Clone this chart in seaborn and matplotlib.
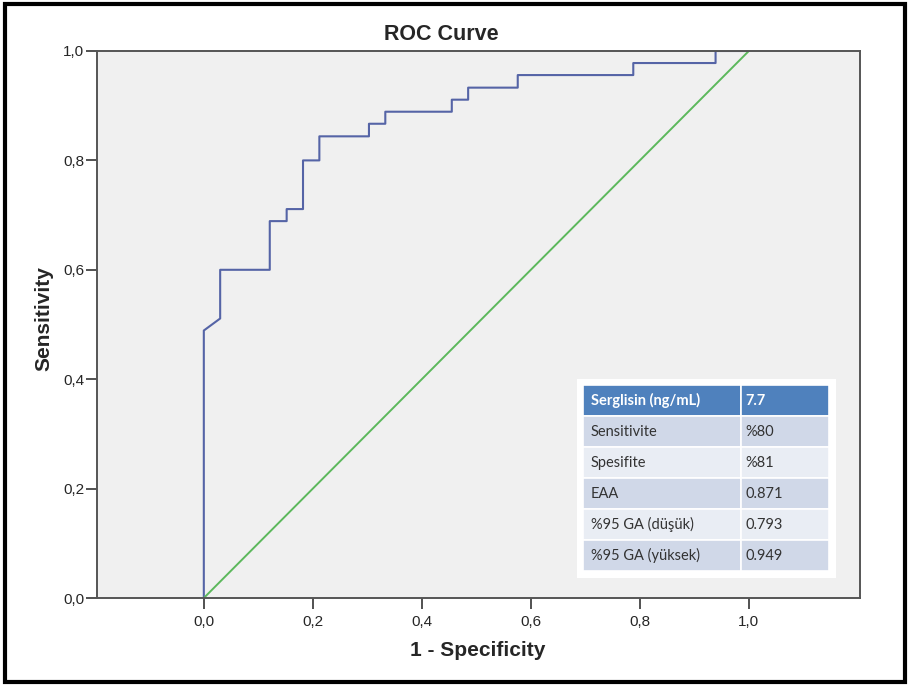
import matplotlib
matplotlib.use("Agg")
import matplotlib.pyplot as plt
import seaborn as sns
import pandas as pd
from matplotlib.patches import Rectangle

# ROC curve vertices
fpr = [0.0, 0.0, 0.030, 0.030, 0.121, 0.121, 0.152, 0.152, 0.182, 0.182,
       0.212, 0.212, 0.303, 0.303, 0.333, 0.333, 0.455, 0.455, 0.485, 0.485,
       0.576, 0.576, 0.788, 0.788, 0.939, 0.939, 1.0]
tpr = [0.0, 0.489, 0.511, 0.600, 0.600, 0.689, 0.689, 0.711, 0.711, 0.800,
       0.800, 0.844, 0.844, 0.867, 0.867, 0.889, 0.889, 0.911, 0.911, 0.933,
       0.933, 0.956, 0.956, 0.978, 0.978, 1.0, 1.0]
ref_line = [0.0, 1.0]

table_labels = ["Serglisin (ng/mL)", "Sensitivite", "Spesifite", "EAA",
                "%95 GA (düşük)", "%95 GA (yüksek)"]
table_values = ["7.7", "%80", "%81", "0.871", "0.793", "0.949"]

ticks = [0.0, 0.2, 0.4, 0.6, 0.8, 1.0]
tick_labels = ["0,0", "0,2", "0,4", "0,6", "0,8", "1,0"]

sns.set_style("ticks")
plt.rcParams["font.family"] = ["Liberation Sans", "DejaVu Sans"]

fig = plt.figure(figsize=(9.1, 6.86), dpi=100)
ax = fig.add_axes([97 / 910, 1 - 598 / 686, 763 / 910, 547 / 686])
ax.set_facecolor("#f0f0f0")

roc = pd.DataFrame({"fpr": fpr, "tpr": tpr})
sns.lineplot(data=roc, x="fpr", y="tpr", sort=False, estimator=None,
             color="#5564a6", linewidth=1.5, ax=ax)
sns.lineplot(x=ref_line, y=ref_line, color="#5cb85c", linewidth=1.4, ax=ax)

ax.set_xlim(-0.196, 1.204)
ax.set_ylim(0, 1)
ax.set_xticks(ticks)
ax.set_xticklabels(tick_labels)
ax.set_yticks(ticks)
ax.set_yticklabels(tick_labels)
ax.tick_params(axis="x", labelsize=11, length=8, width=1.2, color="#333333", pad=4)
ax.tick_params(axis="y", labelsize=11, length=8, width=1.2, color="#333333", pad=1)
ax.set_xlabel("")
ax.set_ylabel("")
for s in ax.spines.values():
    s.set_color("#555555")
    s.set_linewidth(1.4)

fig.text(44 / 910, 1 - 319 / 686, "Sensitivity", rotation=90, fontsize=15,
         fontweight="bold", ha="center", va="center")
fig.text(478 / 910, 1 - 651 / 686, "1 - Specificity", fontsize=15,
         fontweight="bold", ha="center", va="center")
fig.text(441 / 910, 1 - 35 / 686, "ROC Curve", fontsize=15.5,
         fontweight="bold", ha="center", va="center")

# white backing behind the table
ax.add_patch(Rectangle((0.629, 0.037), 0.340, 0.363, transform=ax.transAxes,
                       facecolor="white", edgecolor="none", zorder=3))
cells = [[a, b] for a, b in zip(table_labels, table_values)]
tbl = ax.table(cellText=cells, colWidths=[0.643, 0.357],
               bbox=[0.637, 0.049, 0.322, 0.340], cellLoc="left", zorder=4)
tbl.auto_set_font_size(False)
for (r, c), cell in tbl.get_celld().items():
    cell.set_edgecolor("white")
    cell.set_linewidth(1.2)
    cell.PAD = 0.05
    txt = cell.get_text()
    txt.set_fontsize(10.5)
    txt.set_family(["Lato", "DejaVu Sans"])
    if r == 0:
        cell.set_facecolor("#4f81bd")
        txt.set_color("white")
        txt.set_fontweight("bold")
    else:
        cell.set_facecolor("#d0d8e8" if r % 2 == 1 else "#e9edf4")
        txt.set_color("#333333")

# outer frame
fig.patches.append(Rectangle((5 / 910, 4 / 686), 900 / 910, 678 / 686,
                             transform=fig.transFigure, fill=False,
                             edgecolor="black", linewidth=3))

fig.savefig("out.png", dpi=100, facecolor="white")
